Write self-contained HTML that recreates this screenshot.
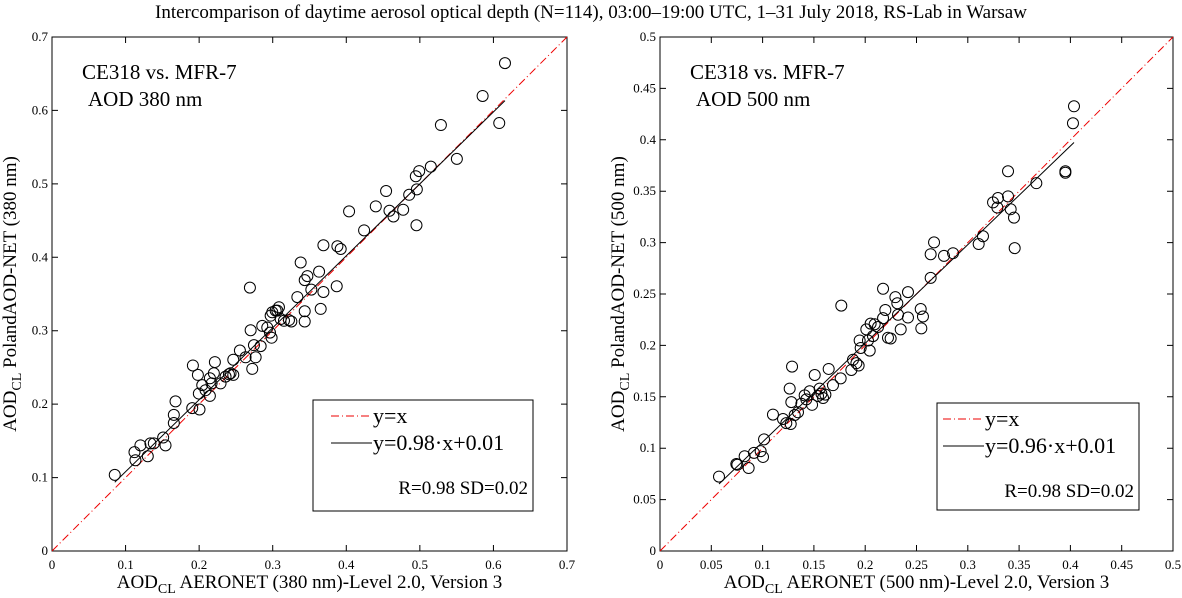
<!DOCTYPE html>
<html><head><meta charset="utf-8"><style>
body{margin:0;background:#fff;}
svg text{font-family:"Liberation Serif",serif;}
svg{display:block;}
</style></head><body>
<svg id="fig" width="1182" height="598" viewBox="0 0 1182 598" font-family="Liberation Serif, serif">
<text x="591" y="18" text-anchor="middle" font-size="19">Intercomparison of daytime aerosol optical depth (N=114), 03:00–19:00 UTC, 1–31 July 2018, RS-Lab in Warsaw</text>
<g id="p1"></g>
<g id="p2"></g>

<g font-size="13" text-anchor="middle">
<text x="52" y="569">0</text><text x="125.6" y="569">0.1</text><text x="199.1" y="569">0.2</text><text x="272.7" y="569">0.3</text><text x="346.3" y="569">0.4</text><text x="419.9" y="569">0.5</text><text x="493.4" y="569">0.6</text><text x="567" y="569">0.7</text>
</g>
<g font-size="13" text-anchor="end">
<text x="48" y="555">0</text><text x="48" y="481.6">0.1</text><text x="48" y="408.1">0.2</text><text x="48" y="334.7">0.3</text><text x="48" y="261.3">0.4</text><text x="48" y="187.9">0.5</text><text x="48" y="114.4">0.6</text><text x="48" y="41">0.7</text>
</g>
<g font-size="13" text-anchor="middle">
<text x="660" y="569">0</text><text x="711.3" y="569">0.05</text><text x="762.6" y="569">0.1</text><text x="813.9" y="569">0.15</text><text x="865.2" y="569">0.2</text><text x="916.5" y="569">0.25</text><text x="967.8" y="569">0.3</text><text x="1019.1" y="569">0.35</text><text x="1070.4" y="569">0.4</text><text x="1121.7" y="569">0.45</text><text x="1173" y="569">0.5</text>
</g>
<g font-size="13" text-anchor="end">
<text x="656" y="555">0</text><text x="656" y="503.6">0.05</text><text x="656" y="452.2">0.1</text><text x="656" y="400.8">0.15</text><text x="656" y="349.4">0.2</text><text x="656" y="298">0.25</text><text x="656" y="246.6">0.3</text><text x="656" y="195.2">0.35</text><text x="656" y="143.8">0.4</text><text x="656" y="92.4">0.45</text><text x="656" y="41">0.5</text>
</g>

<text x="82" y="79" font-size="21">CE318 vs. MFR-7</text>
<text x="88" y="106" font-size="21">AOD 380 nm</text>
<text x="690" y="79" font-size="21">CE318 vs. MFR-7</text>
<text x="696" y="106" font-size="21">AOD 500 nm</text>

<text x="309.5" y="588" text-anchor="middle" font-size="19">AOD<tspan font-size="14" dy="5">CL</tspan><tspan dy="-5"> AERONET (380 nm)-Level 2.0, Version 3</tspan></text>
<text x="916.5" y="588" text-anchor="middle" font-size="19">AOD<tspan font-size="14" dy="5">CL</tspan><tspan dy="-5"> AERONET (500 nm)-Level 2.0, Version 3</tspan></text>
<text x="16" y="294" text-anchor="middle" font-size="19" transform="rotate(-90 16 294)">AOD<tspan font-size="14" dy="5">CL</tspan><tspan dy="-5">  PolandAOD-NET (380 nm)</tspan></text>
<text x="624" y="294" text-anchor="middle" font-size="19" transform="rotate(-90 624 294)">AOD<tspan font-size="14" dy="5">CL</tspan><tspan dy="-5">  PolandAOD-NET (500 nm)</tspan></text>

<g>
<rect x="313" y="400" width="220" height="111" fill="#fff" stroke="#000"/>
<line x1="331" y1="416" x2="372" y2="416" stroke="#e00" stroke-dasharray="8,3,1,3"/>
<text x="373" y="423" font-size="22">y=x</text>
<line x1="331" y1="443" x2="372" y2="443" stroke="#000"/>
<text x="373" y="450" font-size="22">y=0.98·x+0.01</text>
<text x="528" y="494" font-size="19" text-anchor="end">R=0.98  SD=0.02</text>
</g>
<g>
<rect x="937" y="403" width="202" height="107" fill="#fff" stroke="#000"/>
<line x1="943" y1="419" x2="984" y2="419" stroke="#e00" stroke-dasharray="8,3,1,3"/>
<text x="985" y="426" font-size="22">y=x</text>
<line x1="943" y1="446" x2="984" y2="446" stroke="#000"/>
<text x="985" y="453" font-size="22">y=0.96·x+0.01</text>
<text x="1134" y="497" font-size="19" text-anchor="end">R=0.98  SD=0.02</text>
</g>
</svg>
<script>
const x380 = [.0853,.1121,.1134,.1202,.1302,.1338,.1384,.1511,.1543,.1656,.1656,.1679,.1906,.2005,.1915,.1983,.1996,.2042,.2087,.2146,.2146,.2169,.2200,.2214,.2291,.2359,.2405,.2427,.2464,.2464,.2554,.2631,.2700,.2722,.2745,.2768,.2836,.2858,.2926,.2963,.2985,.2972,.2994,.3040,.3063,.3085,.3108,.3153,.3221,.3253,.3335,.3435,.3435,.3380,.3435,.3471,.3525,.3630,.3652,.3689,.3689,.3870,.3879,.3924,.4038,.4242,.4401,.4541,.4587,.4641,.4773,.4855,.4945,.4959,.4954,.4991,.5149,.5286,.5503,.5853,.6079,.6157,.2690];
const y380 = [.1037,.1346,.1236,.1439,.1291,.1466,.1466,.1545,.1439,.1743,.1854,.2038,.1946,.1927,.2527,.2398,.2144,.2259,.2190,.2112,.2352,.2282,.2421,.2573,.2282,.2375,.2407,.2421,.2398,.2605,.2730,.2638,.3006,.2481,.2803,.2638,.2790,.3066,.3043,.2974,.2905,.3205,.3251,.3274,.3274,.3320,.3159,.3135,.3145,.3126,.3458,.3265,.3126,.3929,.3689,.3744,.3560,.3804,.3297,.3527,.4164,.3606,.4150,.4113,.4625,.4367,.4694,.4902,.4634,.4556,.4648,.4851,.5104,.4925,.4436,.5174,.5234,.5801,.5340,.6197,.5828,.6644,.3587];
const x500 = [.0575,.0744,.0754,.0825,.0864,.0916,.0981,.1004,.1014,.1101,.1199,.1231,.1274,.1280,.1264,.1287,.1313,.1345,.1378,.1410,.1426,.1459,.1482,.1508,.1540,.1556,.1573,.1589,.1612,.1644,.1686,.1761,.1767,.1865,.1881,.1914,.1936,.1946,.1956,.2011,.2027,.2044,.2053,.2076,.2092,.2125,.2174,.2174,.2196,.2222,.2248,.2294,.2320,.2346,.2313,.2417,.2417,.2541,.2547,.2563,.2638,.2638,.2671,.2768,.2856,.3106,.3148,.3246,.3294,.3288,.3392,.3392,.3418,.3450,.3457,.3668,.3951,.3951,.4025,.4035];
const y500 = [.0724,.0846,.0839,.0922,.0807,.0955,.0971,.0915,.1086,.1327,.1284,.1244,.1235,.1448,.1580,.1794,.1323,.1350,.1432,.1514,.1475,.1554,.1422,.1712,.1508,.1580,.1531,.1488,.1521,.1771,.1613,.1679,.2387,.1761,.1860,.1827,.1804,.2048,.1975,.2156,.2048,.1949,.2212,.2090,.2206,.2179,.2551,.2265,.2344,.2074,.2067,.2469,.2298,.2156,.2410,.2518,.2271,.2354,.2166,.2281,.2887,.2657,.3002,.2871,.2897,.2986,.3062,.3391,.3434,.3341,.3694,.3450,.3325,.3243,.2946,.3578,.3694,.3680,.4161,.4326];
const ticks380 = [0,0.1,0.2,0.3,0.4,0.5,0.6,0.7];
const ticks500 = [0,0.05,0.1,0.15,0.2,0.25,0.3,0.35,0.4,0.45,0.5];
const fit380 = [0.98,0.01];
const fit500 = [0.96,0.01];

const NS="http://www.w3.org/2000/svg";
function mk(parent,tag,attrs){const e=document.createElementNS(NS,tag);for(const k in attrs)e.setAttribute(k,attrs[k]);parent.appendChild(e);return e;}

function panel(g,cfg){
  const L=cfg.left,R=cfg.right,T=37,B=551,max=cfg.max;
  const sx=v=>L+v/max*(R-L), sy=v=>B-v/max*(B-T);
  const frame=mk(g,'rect',{x:L,y:T,width:R-L,height:B-T,fill:'none',stroke:'#000','stroke-width':1});
  
  
  cfg.ticks.forEach(t=>{
    const px=sx(t),py=sy(t);
    const tk=mk(g,'path',{d:`M${px},${B}v-6M${px},${T}v6M${L},${py}h6M${R},${py}h-6`,stroke:'#000','stroke-width':1,fill:'none'});
    
    
  });
  const id=mk(g,'line',{x1:sx(0),y1:sy(0),x2:sx(max),y2:sy(max),stroke:'#e00','stroke-width':1,'stroke-dasharray':'8,3,1,3'});
  
  
  const xs=cfg.x, ys=cfg.y;
  const xmin=Math.min(...xs), xmax=Math.max(...xs);
  const fl=mk(g,'line',{x1:sx(xmin),y1:sy(cfg.fit[0]*xmin+cfg.fit[1]),x2:sx(xmax),y2:sy(cfg.fit[0]*xmax+cfg.fit[1]),stroke:'#000','stroke-width':1});
  
  
  xs.forEach((v,i)=>{
    const c=mk(g,'circle',{cx:sx(v),cy:sy(ys[i]),r:5.5,fill:'none',stroke:'#000','stroke-width':1});
    
    
  });
}
panel(document.getElementById('p1'),{left:52,right:567,max:0.7,ticks:ticks380,x:x380,y:y380,fit:fit380});
panel(document.getElementById('p2'),{left:660,right:1173,max:0.5,ticks:ticks500,x:x500,y:y500,fit:fit500});
</script>
</body></html>
